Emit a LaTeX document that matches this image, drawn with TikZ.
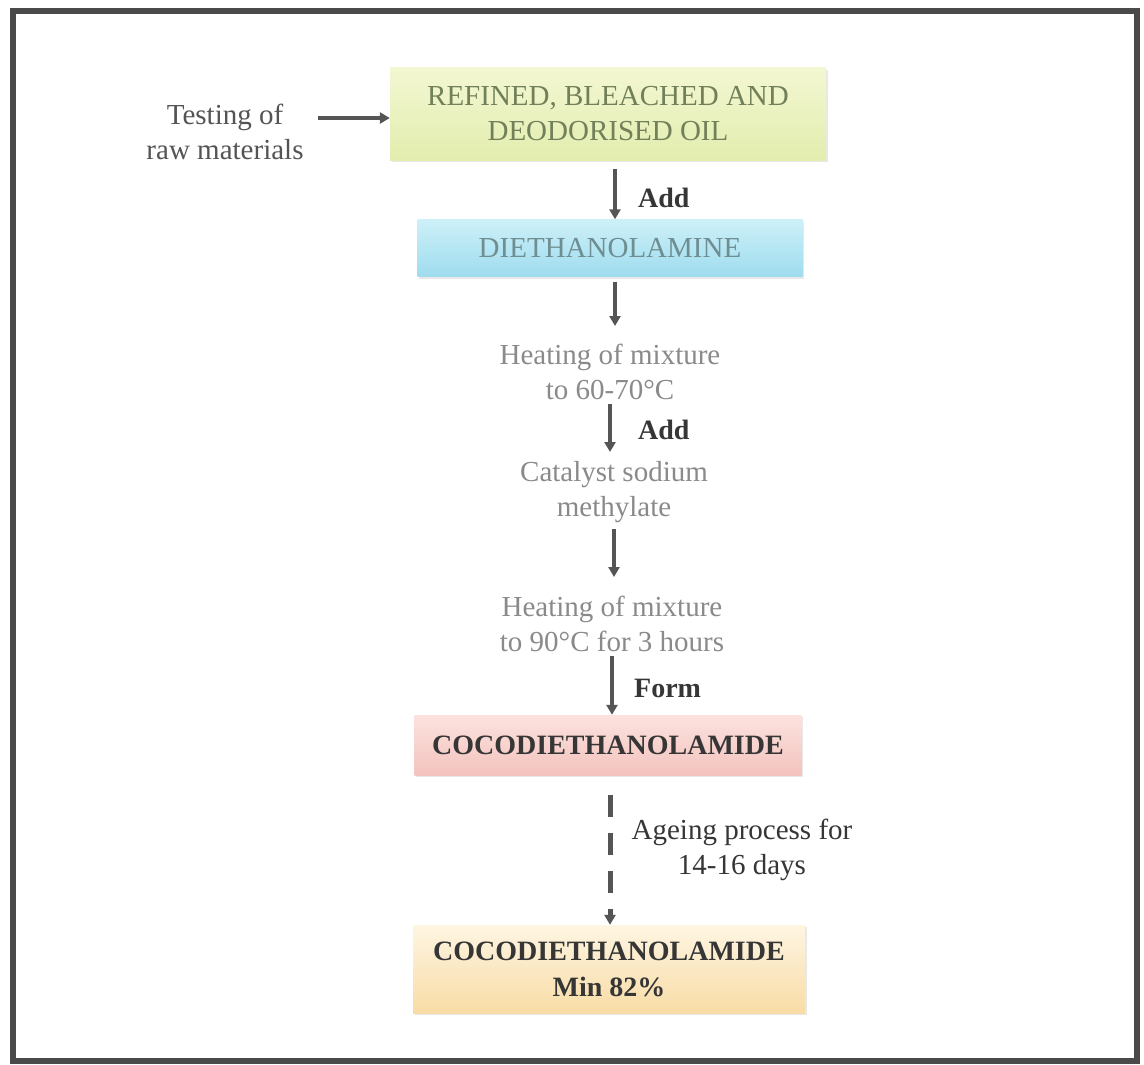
\documentclass[tikz,border=0pt]{standalone}
\usepackage{fontspec}
\setmainfont{Liberation Serif}
\usetikzlibrary{arrows.meta,shadows}
\definecolor{framegray}{HTML}{4A4A4A}
\definecolor{arrowgray}{HTML}{555555}
\definecolor{oiltext}{HTML}{72805A}
\definecolor{dietext}{HTML}{6F8E92}
\definecolor{steptext}{HTML}{8A8A8A}
\definecolor{darktext}{HTML}{363636}
\definecolor{oiltop}{HTML}{F3F7D2}
\definecolor{oilbot}{HTML}{E2EDAE}
\definecolor{deatop}{HTML}{CDF0F8}
\definecolor{deabot}{HTML}{9EDCEE}
\definecolor{cdtop}{HTML}{FCE2DE}
\definecolor{cdbot}{HTML}{F3C3BE}
\definecolor{fintop}{HTML}{FEF5E2}
\definecolor{finbot}{HTML}{F8DCA6}
\tikzset{
  x=1pt, y=-1pt,
  procbox/.style={minimum height=#1, inner sep=0pt, align=center,
    drop shadow={shadow xshift=1.5pt, shadow yshift=-2pt, opacity=0.18}},
  plaintext/.style={align=center, font=\fontsize{29}{35}\selectfont, text=steptext, inner sep=0pt},
  arrowlabel/.style={font=\fontsize{28}{30}\selectfont\bfseries, text=darktext, anchor=west, inner sep=0pt},
  flow/.style={draw=arrowgray, line width=4pt, -{Triangle[length=10pt,width=11pt]}},
}
\begin{document}
\begin{tikzpicture}
\useasboundingbox (0,0) rectangle (1144,1065);
\fill[white] (0,0) rectangle (1144,1065);
% outer frame
\draw[framegray, line width=6pt] (13,11) rectangle (1137,1061);

% process boxes
\node[procbox=92pt, minimum width=436pt, top color=oiltop, bottom color=oilbot,
      font=\fontsize{29}{35}\selectfont, text=oiltext]
  (oil) at (608,114) {REFINED, BLEACHED AND\\DEODORISED OIL};
\node[procbox=57pt, minimum width=385pt, top color=deatop, bottom color=deabot,
      font=\fontsize{29}{30}\selectfont, text=dietext]
  (dea) at (610,248) {DIETHANOLAMINE};
\node[procbox=60pt, minimum width=387pt, top color=cdtop, bottom color=cdbot,
      font=\fontsize{28}{30}\selectfont\bfseries, text=darktext]
  (cdea) at (608,745) {COCODIETHANOLAMIDE};
\node[procbox=88pt, minimum width=392pt, top color=fintop, bottom color=finbot,
      font=\fontsize{28}{36}\selectfont\bfseries, text=darktext]
  (final) at (609,969) {COCODIETHANOLAMIDE\\Min 82\%};

% plain steps
\node[plaintext, text=darktext!85] (test) at (225,132) {Testing of\\raw materials};
\node[plaintext] (heat1) at (610,372) {Heating of mixture\\to 60-70°C};
\node[plaintext] (cat) at (614,492) {Catalyst sodium\\methylate};
\node[plaintext] (heat2) at (612,624) {Heating of mixture\\to 90°C for 3 hours};

% connectors
\draw[flow] (318,118) coordinate (t0) -- (t0 -| oil.west);
\draw[flow] (oil.south -| 615,0) ++(0,9) coordinate (a0) -- (a0 |- dea.north);
\draw[flow] (dea.south -| 615,0) ++(0,5) coordinate (b0) -- (615,326) coordinate (b1);
\draw[flow] (heat1.south -| 610,0) ++(0,4) coordinate (c0) -- (610,452) coordinate (c1);
\draw[flow] (cat.south -| 614,0) ++(0,6) coordinate (d0) -- (614,577) coordinate (d1);
\draw[flow] (heat2.south -| 612,0) ++(0,4) coordinate (e0) -- (e0 |- cdea.north);
\draw[flow, line width=5pt, dash pattern=on 22pt off 16pt] (cdea.south -| 610,0) ++(0,20) coordinate (f0) -- (f0 |- final.north);

% connector labels
\node[arrowlabel] (add1) at (638,198) {Add};
\node[arrowlabel] (add2) at (638,430) {Add};
\node[arrowlabel] (form) at (634,688) {Form};
\node[plaintext, text=darktext] (age) at (742,850) {Ageing process for\\14-16 days};
\end{tikzpicture}
\end{document}
